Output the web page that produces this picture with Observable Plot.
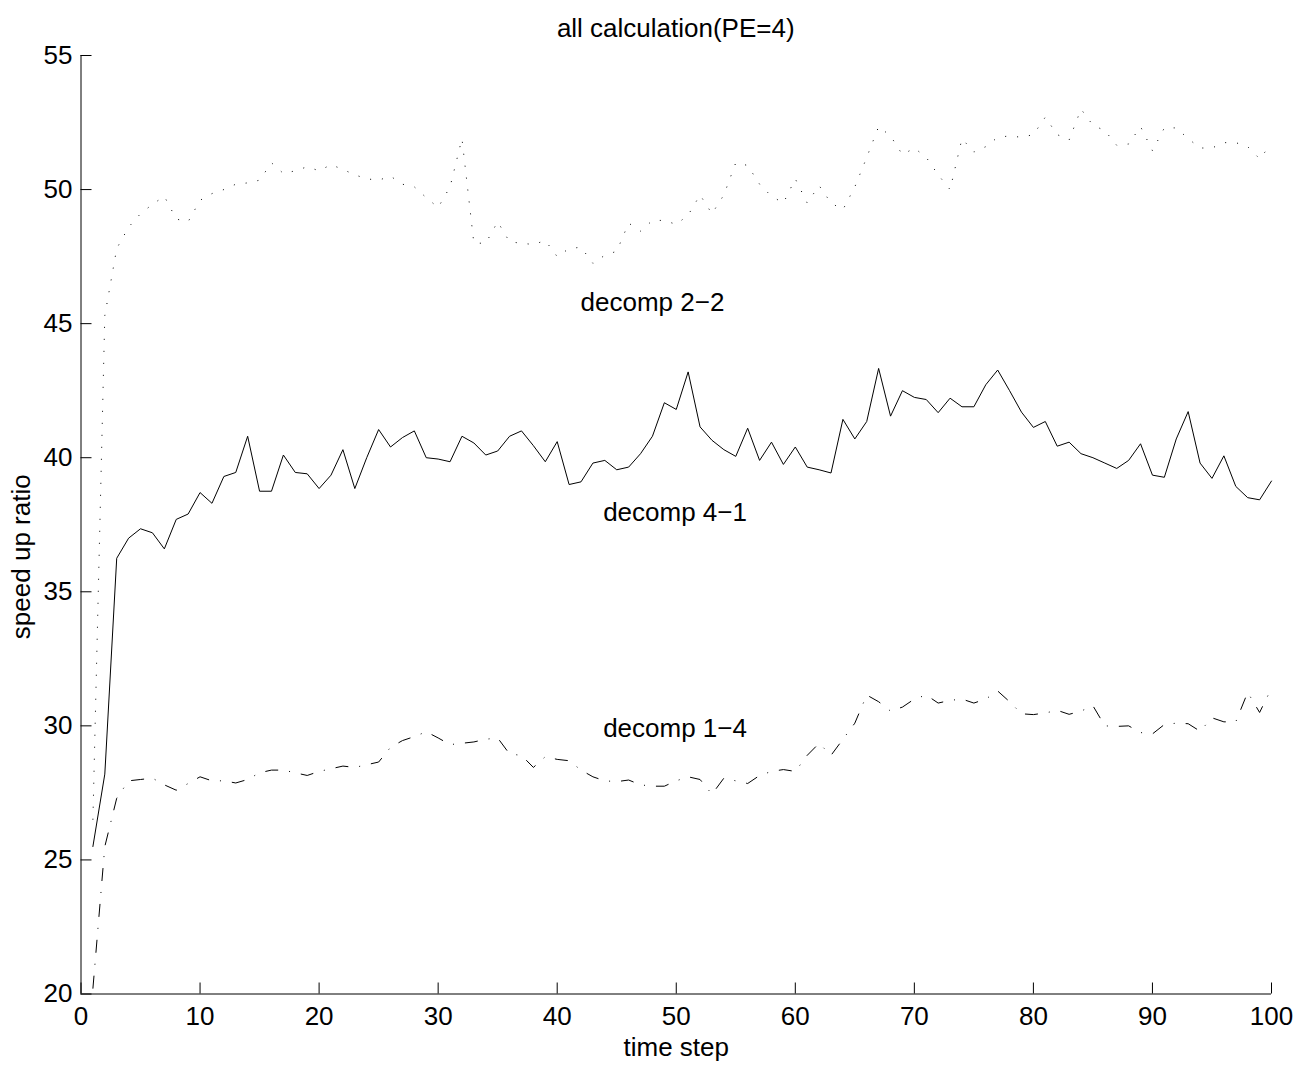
<!DOCTYPE html>
<html>
<head>
<meta charset="utf-8">
<script src="https://cdn.jsdelivr.net/npm/d3@7"></script>
<script src="https://cdn.jsdelivr.net/npm/@observablehq/plot@0.6"></script>
<style>
  html, body { margin: 0; padding: 0; background: white; }
  #title { position: relative; width: 1298px; height: 45px; }
  #title span { position: absolute; left: 80.5px; width: 1190.5px; top: 14.5px; text-align: center;
    font: 26px "Liberation Sans", Arial, sans-serif; line-height: 26px; color: black; }
</style>
</head>
<body>
<div id="title"><span>all calculation(PE=4)</span></div>
<div id="chart"></div>
<script>
// time steps 1..100
const steps = d3.range(1, 101);

// decomp 2-2 (dotted)
const decomp22 = [
  26.5, 45.3, 47.8, 48.6, 49.1, 49.45, 49.75, 48.9, 48.8, 49.6,
  49.85, 50.0, 50.2, 50.25, 50.35, 51.0, 50.6, 50.7, 50.85, 50.7,
  50.93, 50.75, 50.55, 50.4, 50.35, 50.5, 50.2, 50.1, 49.7, 49.33,
  50.1, 51.9, 48.0, 48.0, 48.8, 48.05, 48.0, 47.95, 48.1, 47.5,
  47.8, 47.85, 47.25, 47.55, 47.7, 48.75, 48.45, 48.85, 48.85, 48.7,
  49.05, 49.8, 49.1, 49.8, 51.0, 50.9, 50.2, 49.75, 49.5, 50.4,
  49.5, 50.15, 49.5, 49.25, 50.1, 51.2, 52.35, 52.0, 51.3, 51.55,
  51.2, 50.55, 50.0, 51.9, 51.4, 51.6, 51.95, 52.0, 51.95, 52.05,
  52.7, 52.05, 51.85, 53.0, 52.4, 52.2, 51.65, 51.7, 52.35, 51.45,
  52.3, 52.3, 51.9, 51.55, 51.55, 51.75, 51.75, 51.6, 51.15, 51.7
];

// decomp 4-1 (solid)
const decomp41 = [
  25.5, 28.2, 36.25, 37.0, 37.35, 37.2, 36.6, 37.7, 37.9, 38.7,
  38.3, 39.3, 39.45, 40.8, 38.75, 38.75, 40.1, 39.45, 39.4, 38.85,
  39.35, 40.3, 38.85, 40.0, 41.05, 40.4, 40.75, 41.0, 40.0, 39.95,
  39.85, 40.8, 40.55, 40.1, 40.25, 40.8, 41.0, 40.45, 39.85, 40.6,
  39.0, 39.1, 39.8, 39.9, 39.55, 39.65, 40.15, 40.8, 42.05, 41.8,
  43.2, 41.15, 40.65, 40.3, 40.05, 41.1, 39.9, 40.58, 39.75, 40.4,
  39.65, 39.55, 39.43, 41.43, 40.7, 41.35, 43.33, 41.55, 42.5, 42.25,
  42.17, 41.68, 42.22, 41.9, 41.9, 42.72, 43.27, 42.5, 41.7, 41.13,
  41.35, 40.43, 40.58, 40.15, 40.0, 39.8, 39.6, 39.9, 40.52, 39.35,
  39.27, 40.7, 41.72, 39.8, 39.23, 40.07, 38.93, 38.51, 38.43, 39.13
];

// decomp 1-4 (dash-dot)
const decomp14 = [
  20.2, 25.5, 27.3, 27.95, 28.0, 28.05, 27.8, 27.6, 27.85, 28.1,
  27.95, 27.95, 27.87, 28.0, 28.25, 28.35, 28.35, 28.25, 28.15, 28.3,
  28.4, 28.5, 28.45, 28.55, 28.65, 29.2, 29.45, 29.6, 29.78, 29.55,
  29.3, 29.35, 29.4, 29.5, 29.55, 28.95, 28.9, 28.45, 28.85, 28.75,
  28.7, 28.35, 28.1, 27.95, 27.92, 27.98, 27.8, 27.75, 27.75, 27.95,
  28.1, 28.0, 27.45, 28.05, 27.95, 27.85, 28.15, 28.3, 28.37, 28.3,
  28.9, 29.35, 28.9, 29.5, 30.1, 31.15, 30.9, 30.55, 30.7, 31.0,
  31.15, 30.85, 30.95, 31.0, 30.85, 31.0, 31.3, 30.9, 30.45, 30.42,
  30.48, 30.58, 30.43, 30.55, 30.75, 30.0, 29.98, 30.0, 29.75, 29.7,
  30.05, 30.1, 30.08, 29.8, 30.3, 30.15, 30.15, 31.25, 30.5, 31.4
];

const xTicks = [0, 10, 20, 30, 40, 50, 60, 70, 80, 90, 100];
const yTicks = [20, 25, 30, 35, 40, 45, 50, 55];

const labelText = ["decomp 2\u22122", "decomp 4\u22121", "decomp 1\u22124"];
const labelX = [48.0, 49.9, 49.9];
const labelY = [45.8, 37.94, 29.88];

const toRows = (vals) => steps.map((t, i) => ({t, v: vals[i]}));
const labels = labelText.map((s, i) => ({s, x: labelX[i], y: labelY[i]}));

const W = 1298, H = 1020;
const mL = 80.5, mR = 27, mT = 10, mB = 71.5;
const plotW = W - mL - mR, plotH = H - mT - mB;
const tick = 11;

const chart = Plot.plot({
  width: W, height: H,
  marginLeft: mL, marginRight: mR, marginTop: mT, marginBottom: mB,
  style: {fontFamily: "'Liberation Sans', Arial, sans-serif", fontSize: "26px", color: "black", background: "white", overflow: "visible"},
  x: {domain: [0, 100], label: null},
  y: {domain: [20, 55], label: null},
  marks: [
    Plot.axisX({ticks: xTicks, tickSize: 0, tickPadding: 13, label: null, tickFormat: d => String(d)}),
    Plot.axisY({ticks: yTicks, tickSize: 0, tickPadding: 8.5, label: null, tickFormat: d => String(d)}),
    Plot.tickX(xTicks, {x: d => d, insetTop: plotH - tick, stroke: "black", strokeWidth: 1}),
    Plot.tickY(yTicks, {y: d => d, insetRight: plotW - tick, stroke: "black", strokeWidth: 1}),
    Plot.ruleX([0], {stroke: "black", strokeWidth: 1}),
    Plot.ruleY([20], {stroke: "black", strokeWidth: 1}),
    Plot.line(toRows(decomp22), {x: "t", y: "v", stroke: "black", strokeWidth: 1, strokeDasharray: "1,11", strokeLinecap: "butt"}),
    Plot.line(toRows(decomp41), {x: "t", y: "v", stroke: "black", strokeWidth: 1}),
    Plot.line(toRows(decomp14), {x: "t", y: "v", stroke: "black", strokeWidth: 1, strokeDasharray: "13,11,1,11", strokeLinecap: "butt"}),
    Plot.text(labels, {x: "x", y: "y", text: "s", fill: "black", fontSize: 26}),
    Plot.text(["time step"], {frameAnchor: "bottom", textAnchor: "middle", dy: 62, fill: "black", fontSize: 26}),
    Plot.text(["speed up ratio"], {frameAnchor: "left", textAnchor: "middle", dx: -59, dy: 32, rotate: -90, fill: "black", fontSize: 26})
  ]
});
document.getElementById("chart").appendChild(chart);
</script>
</body>
</html>
